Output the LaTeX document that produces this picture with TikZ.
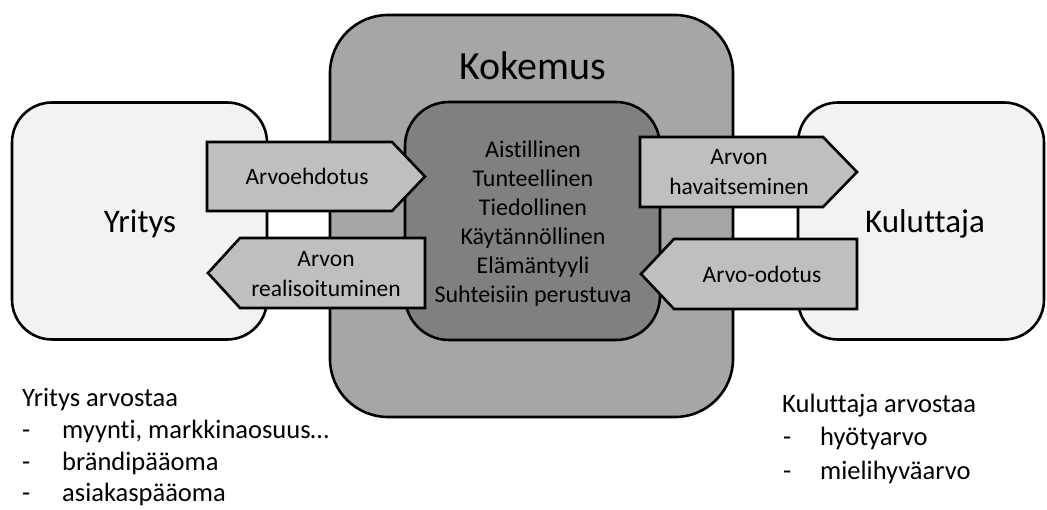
\documentclass[tikz,border=0pt]{standalone}
\usepackage{fontspec}
\setmainfont[RawFeature={-liga;-clig;-dlig;-calt}]{Carlito}
\definecolor{lightbox}{HTML}{F2F2F2}
\definecolor{outerbox}{HTML}{A6A6A6}
\definecolor{innerbox}{HTML}{808080}
\definecolor{arrowfill}{HTML}{BFBFBF}
\begin{document}
\begin{tikzpicture}[x=1pt,y=-1pt,
  edge/.style={draw=black,line width=2.6pt,line join=round},
  sidebox/.style={edge,fill=lightbox,rounded corners=40pt,inner sep=0pt},
  arrowbox/.style={edge,fill=arrowfill,line join=miter},
  bigtxt/.style={font=\fontsize{33}{40}\selectfont,inner sep=0pt},
  arrtxt/.style={font=\fontsize{23.5}{30}\selectfont,inner sep=0pt,align=center},
  listtxt/.style={font=\fontsize{24}{29}\selectfont,inner sep=0pt,align=center},
  bottxt/.style={font=\fontsize{26.5}{32}\selectfont,inner sep=0pt,anchor=base west}]
\useasboundingbox (0,0) rectangle (1047,510);
\fill[white] (0,0) rectangle (1047,510);
% side boxes
\node[sidebox,minimum width=255pt,minimum height=237pt] (yritys) at (139.5,221) {};
\node[sidebox,minimum width=246pt,minimum height=237pt] (kuluttaja) at (921,221) {};
\node[bigtxt,anchor=base] (yrityst) at (140,233) {Yritys};
\node[bigtxt,anchor=base] (kuluttajat) at (925,233) {Kuluttaja};
% Kokemus
\node[edge,fill=outerbox,rounded corners=58pt,minimum width=403pt,minimum height=402pt] (kokemus) at (531.5,216) {};
\node[font=\fontsize{40}{48}\selectfont,inner sep=0pt,anchor=base] (kokemust) at (533,80) {Kokemus};
\node[edge,fill=innerbox,rounded corners=44pt,minimum width=255pt,minimum height=238pt] (inner) at (532.5,221) {};
\node[listtxt] (lista) at (533,223.5) {Aistillinen\\Tunteellinen\\Tiedollinen\\Käytännöllinen\\Elämäntyyli\\Suhteisiin perustuva};
% arrows
\draw[arrowbox] (207,142) -- (392,142) -- (425,176.5) -- (392,211) -- (207,211) -- cycle;
\node[arrtxt,anchor=base] (ehdotus) at (307,185) {Arvoehdotus};
\draw[arrowbox] (425,238) -- (240,238) -- (208,273) -- (240,308) -- (425,308) -- cycle;
\node[arrtxt] (realis) at (326,274.5) {Arvon\\realisoituminen};
\draw[arrowbox] (640,137) -- (823,137) -- (857,172) -- (823,207) -- (640,207) -- cycle;
\node[arrtxt] (havait) at (739,172) {Arvon\\havaitseminen};
\draw[arrowbox] (857,239) -- (674,239) -- (641,274) -- (674,309) -- (857,309) -- cycle;
\node[arrtxt,anchor=base] (odotus) at (762,283) {Arvo-odotus};
% bottom texts
\node[bottxt] (ya) at (22,407) {Yritys arvostaa};
\node[bottxt] (yd1) at (22,438.5) {-};
\node[bottxt] (y1) at (62,438.5) {myynti, markkinaosuus…};
\node[bottxt] (yd2) at (22,470) {-};
\node[bottxt] (y2) at (62,470) {brändipääoma};
\node[bottxt] (yd3) at (22,501.5) {-};
\node[bottxt] (y3) at (62,501.5) {asiakaspääoma};
\node[bottxt] (ka) at (782,413) {Kuluttaja arvostaa};
\node[bottxt] (kd1) at (783,446) {-};
\node[bottxt] (k1) at (820,446) {hyötyarvo};
\node[bottxt] (kd2) at (783,479) {-};
\node[bottxt] (k2) at (820,479) {mielihyväarvo};
\end{tikzpicture}
\end{document}
